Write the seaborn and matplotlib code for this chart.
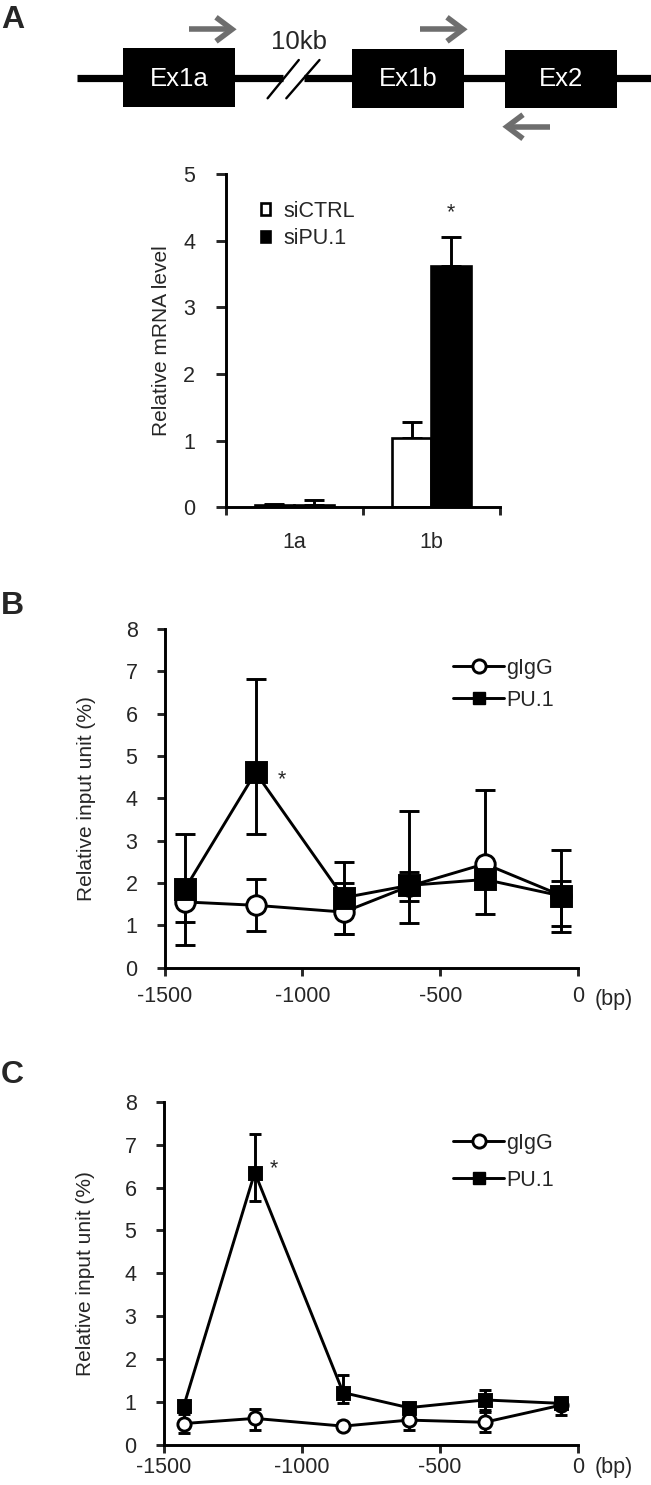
import numpy as np
import pandas as pd
import matplotlib
matplotlib.use("Agg")
import matplotlib.pyplot as plt
import seaborn as sns
from matplotlib.patches import Rectangle, Patch
from matplotlib.lines import Line2D

# ---------------- data ----------------
# Panel A (qPCR)
genes = ["1a", "1b"]
conditions = ["siCTRL", "siPU.1"]
siCTRL_mean = [0.03, 1.04]
siCTRL_err = [0.025, 0.24]
siPU1_mean = [0.03, 3.62]
siPU1_err = [0.085, 0.44]

# Panels B and C (ChIP), positions in bp
positions = [-1427, -1170, -850, -613, -338, -60]
xticks_bp = [-1500, -1000, -500, 0]

b_igg = [1.55, 1.47, 1.31, 1.92, 2.45, 1.70]
b_igg_lo = [0.47, 0.61, 0.51, 0.34, 0.50, 0.86]
b_igg_hi = [0.47, 0.63, 0.68, 0.33, 1.75, 0.34]
b_pu1 = [1.85, 4.61, 1.65, 1.94, 2.08, 1.69]
b_pu1_lo = [1.32, 1.45, 0.85, 0.89, 0.81, 0.71]
b_pu1_hi = [1.30, 2.20, 0.85, 1.77, 0.20, 1.08]

c_igg = [0.50, 0.62, 0.44, 0.58, 0.53, 0.93]
c_igg_lo = [0.23, 0.27, 0.05, 0.22, 0.22, 0.23]
c_igg_hi = [0.23, 0.21, 0.05, 0.22, 0.25, 0.10]
c_pu1 = [0.91, 6.35, 1.22, 0.87, 1.05, 0.97]
c_pu1_lo = [0.10, 0.66, 0.25, 0.08, 0.24, 0.05]
c_pu1_hi = [0.10, 0.90, 0.40, 0.08, 0.23, 0.05]

# ---------------- style ----------------
sns.set_style("ticks")
plt.rcParams["font.family"] = ["Liberation Sans", "DejaVu Sans"]
FS = 15.5
LW = 2.1

W, H = 651, 1485
fig = plt.figure(figsize=(W / 100, H / 100), dpi=100)


def px_axes(l, t, r, b):
    return fig.add_axes([l / W, 1 - b / H, (r - l) / W, (b - t) / H])


def style_axes(ax):
    sns.despine(ax=ax)
    for s in ("left", "bottom"):
        ax.spines[s].set_linewidth(LW)
        ax.spines[s].set_color("black")


# ---------------- gene diagram ----------------
axd = px_axes(0, 0, 651, 165)
axd.set_xlim(0, 651)
axd.set_ylim(165, 0)
axd.axis("off")
axd.patch.set_alpha(0)
yl = 77.7
axd.plot([77, 283], [yl, yl], color="black", lw=5.2, solid_capstyle="butt")
axd.plot([304, 651], [yl, yl], color="black", lw=5.2, solid_capstyle="butt")
boxes = [("Ex1a", 122.7, 235, 48, 107), ("Ex1b", 352, 464, 49, 108), ("Ex2", 505, 617, 50, 108)]
for lab, x0, x1, y0, y1 in boxes:
    axd.add_patch(Rectangle((x0, y0), x1 - x0, y1 - y0, facecolor="black", edgecolor="none"))
    axd.text((x0 + x1) / 2, 79.5, lab, color="white", fontsize=18.5, ha="center", va="center")
axd.plot([267.6, 298.8], [98.3, 60], color="black", lw=1.7)
axd.plot([286.3, 319.5], [98.3, 60], color="black", lw=1.7)
axd.text(299, 42, "10kb", fontsize=18.5, ha="center", va="center")

gray = "#6e6e6e"


def arrow(x0, x1, y):
    d = np.sign(x1 - x0)
    axd.plot([x0, x1 - d * 2], [y, y], color=gray, lw=4, solid_capstyle="butt")
    axd.plot([x1 - d * 16, x1, x1 - d * 16], [y - 12, y, y + 12], color=gray, lw=4,
             solid_joinstyle="miter", solid_capstyle="butt")


arrow(189, 232, 29.3)
arrow(420, 463, 29.3)
arrow(550, 507, 126.7)

# ---------------- panel A bar chart ----------------
axa = px_axes(225.7, 174, 500, 507.5)
dfa = pd.DataFrame({
    "gene": genes * 2,
    "cond": [conditions[0]] * 2 + [conditions[1]] * 2,
    "val": siCTRL_mean + siPU1_mean,
})
sns.barplot(data=dfa, x="gene", y="val", hue="cond", order=genes, hue_order=conditions,
            palette={"siCTRL": "white", "siPU.1": "black"}, saturation=1,
            edgecolor="black", linewidth=1.9, width=0.58, errorbar=None, ax=axa, legend=False)
for cont, errs in zip(axa.containers, [siCTRL_err, siPU1_err]):
    for bar, e in zip(cont, errs):
        xc = bar.get_x() + bar.get_width() / 2
        axa.errorbar([xc], [bar.get_height()], yerr=[[0], [e]], fmt="none", ecolor="black",
                     elinewidth=LW, capsize=7.5, capthick=LW, zorder=1)
        bar.set_zorder(2)
# significance star above siPU.1 / 1b
b1 = axa.containers[1][1]
axa.text(b1.get_x() + b1.get_width() / 2, 4.42, "*", fontsize=FS, ha="center", va="center")

axa.set_xlim(-0.5, 1.5)
axa.set_ylim(0, 5)
axa.set_yticks(range(0, 6))
axa.set_xticks([-0.5, 0.5, 1.5])
axa.set_xticklabels([])
axa.set_xticks([0, 1], minor=True)
axa.set_xticklabels(genes, minor=True)
axa.set_xlabel("")
axa.set_ylabel("Relative mRNA level", fontsize=15)
axa.yaxis.set_label_coords(-0.200, 0.5)
style_axes(axa)
axa.tick_params(axis="y", direction="out", length=7, width=LW, labelsize=FS, pad=15)
axa.tick_params(axis="x", which="major", direction="out", length=6, width=LW)
axa.tick_params(axis="x", which="minor", length=0, labelsize=FS, pad=18)
leg_handles = [Patch(facecolor="white", edgecolor="black", linewidth=1.9),
               Patch(facecolor="black", edgecolor="black", linewidth=1.9)]
axa.legend(leg_handles, conditions, loc="upper left", bbox_to_anchor=(250 / W, 1 - 190 / H),
           bbox_transform=fig.transFigure, frameon=False, fontsize=FS, borderpad=0,
           handlelength=0.45, handleheight=0.45, handletextpad=0.6, labelspacing=0.3)


# ---------------- panels B & C ----------------
def chip_panel(ax, igg, igg_lo, igg_hi, pu1, pu1_lo, pu1_hi, msq, mci, cap, star, leg_top, leg_sp, xpad):
    ax.errorbar(positions, igg, yerr=[igg_lo, igg_hi], fmt="none", ecolor="black",
                elinewidth=LW, capsize=cap, capthick=LW, zorder=2)
    ax.errorbar(positions, pu1, yerr=[pu1_lo, pu1_hi], fmt="none", ecolor="black",
                elinewidth=LW, capsize=cap, capthick=LW, zorder=2)
    sns.lineplot(x=positions, y=igg, ax=ax, color="black", marker="o", markersize=mci,
                 markerfacecolor="white", markeredgecolor="black", markeredgewidth=LW,
                 linewidth=LW, zorder=3)
    sns.lineplot(x=positions, y=pu1, ax=ax, color="black", marker="s", markersize=msq,
                 markerfacecolor="black", markeredgecolor="black", markeredgewidth=LW,
                 linewidth=LW, zorder=4)
    ax.text(star[0], star[1], "*", fontsize=FS, ha="center", va="center")
    ax.set_xlim(-1500, 0)
    ax.set_ylim(0, 8)
    ax.set_xticks(xticks_bp)
    ax.set_xticklabels([str(v) for v in xticks_bp])
    ax.set_yticks(range(0, 9))
    ax.set_ylabel("Relative input unit (%)", fontsize=15)
    ax.yaxis.set_label_coords(-0.165, 0.5)
    style_axes(ax)
    ax.tick_params(axis="y", direction="out", length=5.5, width=LW, labelsize=FS, pad=14)
    ax.tick_params(axis="x", direction="out", length=5.5, width=LW, labelsize=FS, pad=xpad)
    handles = [
        Line2D([], [], color="black", lw=LW, marker="o", markersize=9.5, markerfacecolor="white",
               markeredgecolor="black", markeredgewidth=LW),
        Line2D([], [], color="black", lw=LW, marker="s", markersize=9, markerfacecolor="black",
               markeredgecolor="black"),
    ]
    ax.legend(handles, ["gIgG", "PU.1"], loc="upper left", bbox_to_anchor=(442 / W, 1 - leg_top / H),
              bbox_transform=fig.transFigure, frameon=False, fontsize=FS, borderpad=0,
              handlelength=2.4, handletextpad=0.1, labelspacing=leg_sp)


axb = px_axes(164.6, 629, 578, 967.5)
chip_panel(axb, b_igg, b_igg_lo, b_igg_hi, b_pu1, b_pu1_lo, b_pu1_hi,
           msq=14, mci=14, cap=7, star=(-1076, 4.45), leg_top=647, leg_sp=0.5, xpad=8)
fig.text(614 / W, 1 - 999 / H, "(bp)", fontsize=FS, ha="center", va="center")

axc = px_axes(163.6, 1101.7, 578, 1445)
chip_panel(axc, c_igg, c_igg_lo, c_igg_hi, c_pu1, c_pu1_lo, c_pu1_hi,
           msq=8.5, mci=9.5, cap=4, star=(-1100, 6.45), leg_top=1122, leg_sp=0.75, xpad=3)
fig.text(614 / W, 1 - 1468 / H, "(bp)", fontsize=FS, ha="center", va="center")

# panel letters
for lab, base in [("A", 28), ("B", 614), ("C", 1083)]:
    fig.text(1 / W, 1 - base / H, lab, fontsize=23, fontweight="bold", ha="left", va="baseline")

fig.savefig("out.png", dpi=100)
